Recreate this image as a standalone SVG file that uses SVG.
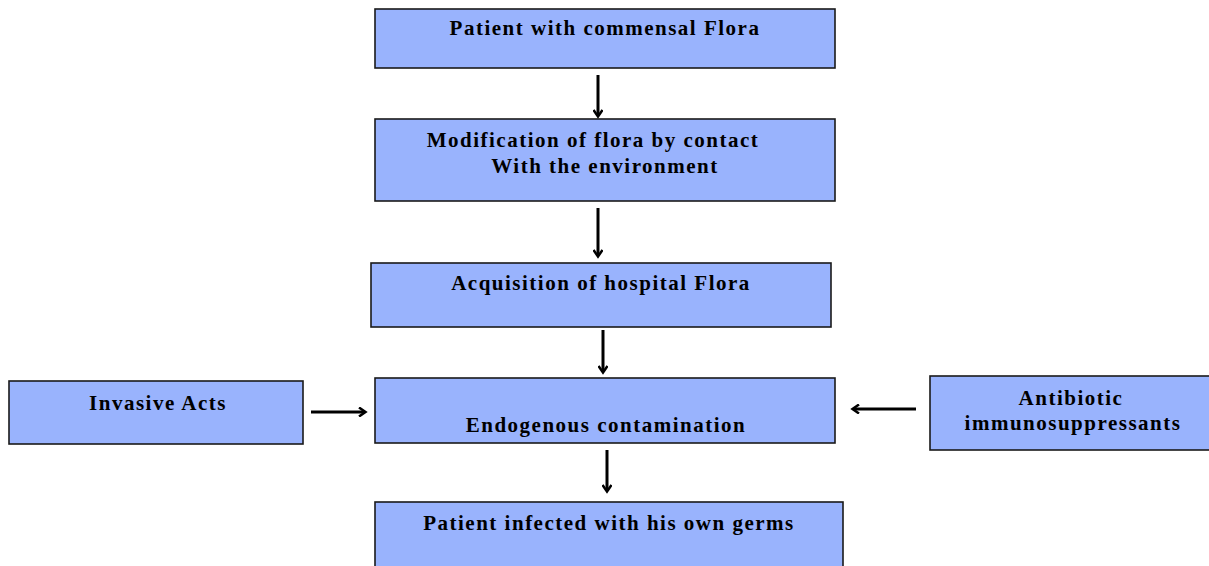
<svg xmlns="http://www.w3.org/2000/svg" width="1209" height="566" viewBox="0 0 1209 566">
<defs>
<style>
.box{fill:#99b3fd;stroke:#1a1a1a;stroke-width:1.6}
.t{font-family:"Liberation Serif","Times New Roman",serif;font-weight:bold;font-size:21px;letter-spacing:1.5px;fill:#000;text-anchor:middle}
.c{stroke:#000;stroke-width:3;fill:none}
</style>
<marker id="ah" markerWidth="10" markerHeight="10" refX="7" refY="5" orient="auto" markerUnits="userSpaceOnUse" viewBox="0 0 10 10">
<path d="M1,0.5 L7.5,5 L1,9.5" fill="none" stroke="#000" stroke-width="2.5"/>
</marker>
</defs>
<rect width="1209" height="566" fill="#fff"/>
<g id="n1"><rect class="box" x="375" y="9" width="460" height="59"/><text class="t" x="605" y="35">Patient with commensal Flora</text></g>
<g id="n2"><rect class="box" x="375" y="119" width="460" height="82"/><text class="t" x="593" y="147">Modification of flora by contact</text><text class="t" x="605" y="173">With the environment</text></g>
<g id="n3"><rect class="box" x="371" y="263" width="460" height="64"/><text class="t" x="601" y="290">Acquisition of hospital Flora</text></g>
<g id="n4"><rect class="box" x="375" y="378" width="460" height="65"/><text class="t" x="606" y="432">Endogenous contamination</text></g>
<g id="n5"><rect class="box" x="375" y="502" width="468" height="70"/><text class="t" x="609" y="530">Patient infected with his own germs</text></g>
<g id="n6"><rect class="box" x="9" y="381" width="294" height="63"/><text class="t" x="158" y="410">Invasive Acts</text></g>
<g id="n7"><rect class="box" x="930" y="376" width="285" height="74"/><text class="t" x="1071" y="405">Antibiotic</text><text class="t" x="1073" y="430">immunosuppressants</text></g>
<g id="connectors">
<line class="c" x1="598" y1="75" x2="598" y2="116" marker-end="url(#ah)"/>
<line class="c" x1="598" y1="208" x2="598" y2="256" marker-end="url(#ah)"/>
<line class="c" x1="603" y1="330" x2="603" y2="372" marker-end="url(#ah)"/>
<line class="c" x1="607" y1="450" x2="607" y2="491" marker-end="url(#ah)"/>
<line class="c" x1="311" y1="412" x2="365" y2="412" marker-end="url(#ah)"/>
<line class="c" x1="916" y1="409" x2="853" y2="409" marker-end="url(#ah)"/>
</g>
</svg>
